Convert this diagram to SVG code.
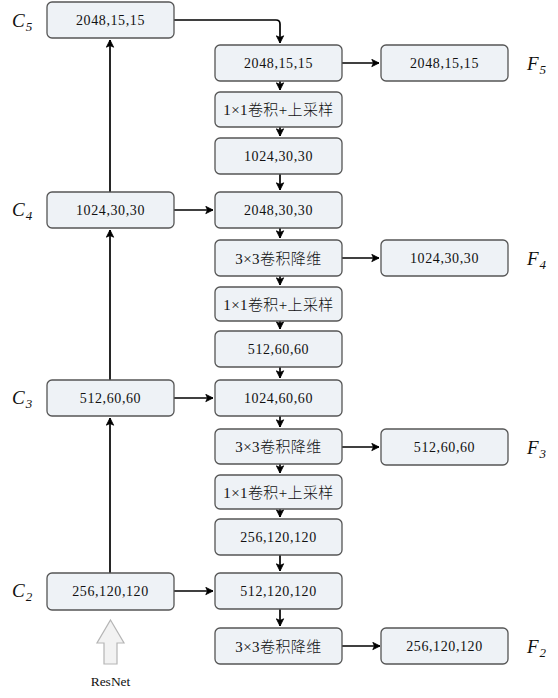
<svg xmlns="http://www.w3.org/2000/svg" width="558" height="698" viewBox="0 0 558 698">
<style>
.box{fill:#eef2f6;stroke:#555;stroke-width:1.3}
.num{font-family:"Liberation Serif",serif;font-size:14px;letter-spacing:0.6px;fill:#111;text-anchor:middle}
.cn{font-family:"Liberation Serif","Noto Sans CJK SC",serif;font-size:15px;font-weight:300;letter-spacing:0.4px;fill:#111;text-anchor:middle}
.lbl{font-family:"Liberation Serif",serif;font-style:italic;font-size:19px;fill:#111}
.sub{font-size:13px}
.ln{fill:none;stroke:#000;stroke-width:1.7}
</style>
<defs>
<marker id="ah" viewBox="0 0 10 10" refX="9" refY="5" markerWidth="9" markerHeight="9" orient="auto" markerUnits="userSpaceOnUse">
<path d="M1,1 L9,5 L1,9 L3,5 Z" fill="#000" stroke="#000" stroke-width="1"/>
</marker>
</defs>

<g id="connectors">
<path class="ln" d="M110,573 V418" marker-end="url(#ah)"/>
<path class="ln" d="M110,380 V230" marker-end="url(#ah)"/>
<path class="ln" d="M110,192 V40" marker-end="url(#ah)"/>
<path class="ln" d="M174,20 H276 Q280,20 280,24 V43" marker-end="url(#ah)"/>
<path class="ln" d="M174,210 H213" marker-end="url(#ah)"/>
<path class="ln" d="M174,398 H213" marker-end="url(#ah)"/>
<path class="ln" d="M174,591 H213" marker-end="url(#ah)"/>
<path class="ln" d="M280,81 V90" marker-end="url(#ah)"/>
<path class="ln" d="M280,127 V136" marker-end="url(#ah)"/>
<path class="ln" d="M280,174 V190" marker-end="url(#ah)"/>
<path class="ln" d="M280,228 V238" marker-end="url(#ah)"/>
<path class="ln" d="M280,276 V285" marker-end="url(#ah)"/>
<path class="ln" d="M280,321 V329" marker-end="url(#ah)"/>
<path class="ln" d="M280,367 V378" marker-end="url(#ah)"/>
<path class="ln" d="M280,416 V427" marker-end="url(#ah)"/>
<path class="ln" d="M280,464 V473" marker-end="url(#ah)"/>
<path class="ln" d="M280,509 V517" marker-end="url(#ah)"/>
<path class="ln" d="M280,555 V571" marker-end="url(#ah)"/>
<path class="ln" d="M280,609 V626" marker-end="url(#ah)"/>
<path class="ln" d="M342,63 H379" marker-end="url(#ah)"/>
<path class="ln" d="M342,258 H379" marker-end="url(#ah)"/>
<path class="ln" d="M342,447 H379" marker-end="url(#ah)"/>
<path class="ln" d="M342,646 H380" marker-end="url(#ah)"/>
</g>

<g id="C5"><rect class="box" x="47" y="2" width="127" height="36" rx="5"/><text class="num" x="110.5" y="25">2048,15,15</text></g>
<g id="C4"><rect class="box" x="47" y="192" width="127" height="36" rx="5"/><text class="num" x="110.5" y="215">1024,30,30</text></g>
<g id="C3"><rect class="box" x="47" y="380" width="127" height="36" rx="5"/><text class="num" x="110.5" y="403">512,60,60</text></g>
<g id="C2"><rect class="box" x="47" y="573" width="127" height="37" rx="5"/><text class="num" x="110.5" y="596">256,120,120</text></g>

<g id="M1"><rect class="box" x="215" y="45" width="127" height="36" rx="5"/><text class="num" x="278.5" y="68">2048,15,15</text></g>
<g id="M2"><rect class="box" x="215" y="92" width="127" height="35" rx="5"/><text class="cn" x="278.5" y="115">1×1卷积+上采样</text></g>
<g id="M3"><rect class="box" x="215" y="138" width="127" height="36" rx="5"/><text class="num" x="278.5" y="161">1024,30,30</text></g>
<g id="M4"><rect class="box" x="215" y="192" width="127" height="36" rx="5"/><text class="num" x="278.5" y="215">2048,30,30</text></g>
<g id="M5"><rect class="box" x="215" y="240" width="127" height="36" rx="5"/><text class="cn" x="278.5" y="263.5">3×3卷积降维</text></g>
<g id="M6"><rect class="box" x="215" y="287" width="127" height="34" rx="5"/><text class="cn" x="278.5" y="309.5">1×1卷积+上采样</text></g>
<g id="M7"><rect class="box" x="215" y="331" width="127" height="36" rx="5"/><text class="num" x="278.5" y="354">512,60,60</text></g>
<g id="M8"><rect class="box" x="215" y="380" width="127" height="36" rx="5"/><text class="num" x="278.5" y="403">1024,60,60</text></g>
<g id="M9"><rect class="box" x="215" y="429" width="127" height="35" rx="5"/><text class="cn" x="278.5" y="452">3×3卷积降维</text></g>
<g id="M10"><rect class="box" x="215" y="475" width="127" height="34" rx="5"/><text class="cn" x="278.5" y="497.5">1×1卷积+上采样</text></g>
<g id="M11"><rect class="box" x="215" y="519" width="127" height="36" rx="5"/><text class="num" x="278.5" y="542">256,120,120</text></g>
<g id="M12"><rect class="box" x="215" y="573" width="127" height="36" rx="5"/><text class="num" x="278.5" y="596">512,120,120</text></g>
<g id="M13"><rect class="box" x="215" y="628" width="127" height="36" rx="5"/><text class="cn" x="278.5" y="651.5">3×3卷积降维</text></g>

<g id="F5"><rect class="box" x="381" y="45" width="127" height="36" rx="5"/><text class="num" x="444.5" y="68">2048,15,15</text></g>
<g id="F4"><rect class="box" x="381" y="240" width="127" height="36" rx="5"/><text class="num" x="444.5" y="263">1024,30,30</text></g>
<g id="F3"><rect class="box" x="381" y="429" width="127" height="36" rx="5"/><text class="num" x="444.5" y="452">512,60,60</text></g>
<g id="F2"><rect class="box" x="381" y="628" width="127" height="36" rx="5"/><text class="num" x="444.5" y="651">256,120,120</text></g>

<g id="labels">
<text class="lbl" x="12" y="27">C<tspan class="sub" dx="1" dy="4">5</tspan></text>
<text class="lbl" x="12" y="216">C<tspan class="sub" dx="1" dy="4">4</tspan></text>
<text class="lbl" x="12" y="404">C<tspan class="sub" dx="1" dy="4">3</tspan></text>
<text class="lbl" x="12" y="597">C<tspan class="sub" dx="1" dy="4">2</tspan></text>
<text class="lbl" x="527" y="70" font-size="17px">F<tspan class="sub" dx="1" dy="4">5</tspan></text>
<text class="lbl" x="527" y="265" font-size="17px">F<tspan class="sub" dx="1" dy="4">4</tspan></text>
<text class="lbl" x="527" y="454" font-size="17px">F<tspan class="sub" dx="1" dy="4">3</tspan></text>
<text class="lbl" x="527" y="653" font-size="17px">F<tspan class="sub" dx="1" dy="4">2</tspan></text>
</g>

<g id="ResNet">
<path d="M110.5,620 L124,643 L117,643 L117,664 L104,664 L104,643 L97,643 Z" fill="#f2f2f2" stroke="#b5b5b5" stroke-width="1.2"/>
<text x="110.5" y="686" text-anchor="middle" font-family="Liberation Serif, serif" font-size="13.5px" fill="#111">ResNet</text>
</g>
</svg>
